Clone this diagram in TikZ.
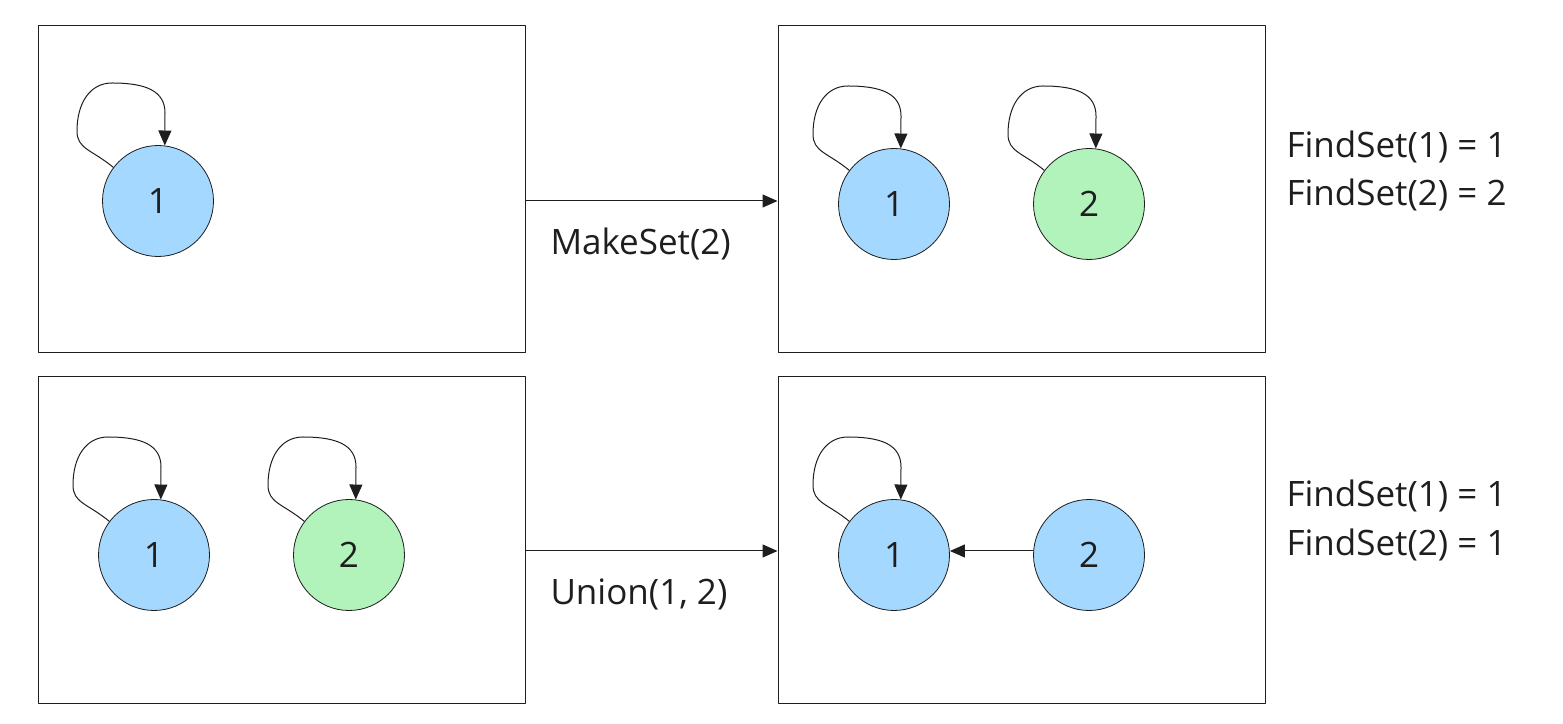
\documentclass[tikz,border=0pt]{standalone}
\usepackage{fontspec}
\setmainfont{Open Sans}
\usepackage{tikz}
\usetikzlibrary{arrows.meta, calc, positioning}

\definecolor{setblue}{HTML}{A5D8FF}
\definecolor{setgreen}{HTML}{B2F2BB}
\definecolor{ink}{HTML}{1E1E1E}

\tikzset{
  frame/.style={draw=ink, line width=0.5pt, minimum width=243.5pt, minimum height=163.5pt, inner sep=0pt},
  elem/.style={circle, draw=ink, line width=0.4pt, minimum size=55.5pt, inner sep=0pt, font=\fontsize{17.5}{20}\selectfont, text=ink},
  label/.style={anchor=west, inner sep=0pt, font=\fontsize{17.5}{20}\selectfont, text=ink},
}

% self loop above a set element
\newcommand{\selfloop}[1]{%
  \draw[->] (#1.143) .. controls +(-22,18) and +(0,-18) .. ($(#1)+(-81,70)$)
    .. controls +(0,28) and +(-22,0) .. ($(#1)+(-46,118)$)
    .. controls +(34,0) and +(0,22) .. ($(#1)+(7,88)$) -- (#1.83);}

\begin{document}
\begin{tikzpicture}[line cap=round,line join=round,>={Triangle[length=7.5pt,width=6.5pt]},x=0.5pt,y=0.5pt,draw=ink,line width=0.5pt]
\useasboundingbox (0,0) rectangle (1563,723);

% the four snapshots
\node[frame] (boxA) at (281.5,533.5) {};
\node[frame] (boxB) at (1021.5,533.5) {};
\node[frame] (boxC) at (281.5,183) {};
\node[frame] (boxD) at (1021.5,183) {};

% before MakeSet(2)
\node[elem, fill=setblue] (a1) at (158,522) {1};
\selfloop{a1}

% after MakeSet(2)
\node[elem, fill=setblue] (b1) at (894,519) {1};
\node[elem, fill=setgreen] (b2) at (1089,519) {2};
\selfloop{b1}
\selfloop{b2}

% before Union(1, 2)
\node[elem, fill=setblue] (c1) at (154,168) {1};
\node[elem, fill=setgreen] (c2) at (349,168) {2};
\selfloop{c1}
\selfloop{c2}

% after Union(1, 2)
\node[elem, fill=setblue] (d1) at (894,168) {1};
\node[elem, fill=setblue] (d2) at (1089,168) {2};
\selfloop{d1}
\draw[->] ($(d2.west)+(0,4)$) -- ($(d1.east)+(0,4)$);

% operations
\coordinate (opA) at (0,522);
\coordinate (opC) at (0,172);
\draw[->] (boxA.east |- opA) -- (boxB.west |- opA);
\draw[->] (boxC.east |- opC) -- (boxD.west |- opC);
\node[label] (mk) at (550,479) {MakeSet(2)};
\node[label] (un) at (550,129) {Union(1, 2)};

% results
\node[label] (fb1) at (1286,576) {FindSet(1) = 1};
\node[label] (fb2) at (1286,528) {FindSet(2) = 2};
\node[label] (fd1) at (1286,227) {FindSet(1) = 1};
\node[label] (fd2) at (1286,178) {FindSet(2) = 1};
\end{tikzpicture}
\end{document}
